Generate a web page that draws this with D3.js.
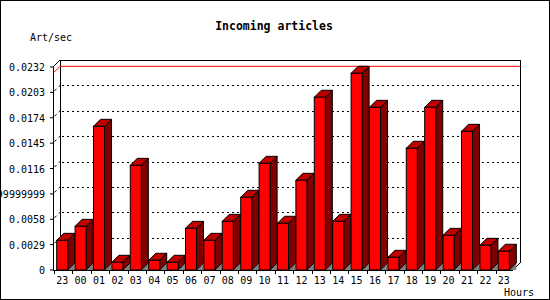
<!DOCTYPE html>
<html>
<head>
<meta charset="utf-8">
<script src="https://cdn.jsdelivr.net/npm/d3@7"></script>
<style>
	body { margin: 0; background: #fff; }
	text { font-family: "DejaVu Sans Mono", "Liberation Mono", monospace; font-size: 10px; fill: #000; }
	.title { font-size: 11.5px; font-weight: bold; }
</style>
</head>
<body>
<script>
// hour labels, starts at 23 of the previous day
var hours = ['23','00','01','02','03','04','05','06','07','08','09','10','11',
	'12','13','14','15','16','17','18','19','20','21','22','23'];

// articles per second
var artPerSec = [0.00339, 0.00499, 0.01642, 0.00088, 0.01196, 0.00111, 0.00088,
	0.00476, 0.00339, 0.00556, 0.00831, 0.01219, 0.00534, 0.01025, 0.01974,
	0.00556, 0.02248, 0.01859, 0.00145, 0.01391, 0.01859, 0.00396, 0.01585,
	0.00282, 0.00214];

var yTickValues = [0, 0.0029, 0.0058, 0.0087, 0.0116, 0.0145, 0.0174, 0.0203, 0.0232];
var yTickLabels = ['0', '0.0029', '0.0058', '0.00869999999999999', '0.0116',
	'0.0145', '0.0174', '0.0203', '0.0232'];

var W = 550, H = 300;
var depth = 7;

var svg = d3.select('body').append('svg')
	.attr('width', W)
	.attr('height', H);

svg.append('rect')
	.attr('x', 0).attr('y', 0)
	.attr('width', W).attr('height', H)
	.attr('fill', 'white');

var x = d3.scaleBand()
	.domain(d3.range(hours.length))
	.range([53, 513])
	.paddingInner(0.4)
	.paddingOuter(0.2);

var y = d3.scaleLinear()
	.domain([0, 0.0232])
	.range([270, 67]);

var x0 = x.range()[0], x1 = x.range()[1];
var yBase = y(0), yTop = y(0.0232);

// back wall + floor + left wall
var frame = svg.append('g')
	.attr('fill', 'none')
	.attr('stroke', 'black')
	.attr('stroke-width', 1)
	.attr('shape-rendering', 'crispEdges');

frame.append('path')
	.attr('d', 'M' + (x0 + depth) + ',' + (yBase - depth) +
		'V' + (yTop - depth) + 'H' + (x1 + depth) + 'V' + (yBase - depth));

// dotted grid, back wall and left wall
var grid = svg.append('g')
	.attr('stroke', 'black')
	.attr('stroke-dasharray', '2,3');

yTickValues.slice(1, -1).forEach(function(v) {
	grid.append('line')
		.attr('x1', x0 + depth + 2).attr('x2', x1 + depth)
		.attr('y1', Math.round(y(v) - depth) + 0.5).attr('y2', Math.round(y(v) - depth) + 0.5);
	grid.append('line')
		.attr('x1', x0).attr('y1', y(v))
		.attr('x2', x0 + depth).attr('y2', y(v) - depth)
		.attr('stroke-dasharray', '3,3')
		.attr('stroke-dashoffset', -2);
});

// max line in red
var maxV = d3.max(artPerSec);
svg.append('path')
	.attr('fill', 'none')
	.attr('stroke', '#ff0000')
	.attr('d', 'M' + x0 + ',' + y(maxV) + 'L' + (x0 + depth) + ',' + (y(maxV) - depth) +
		'H' + (x1 + depth));

// left wall edges and floor front
frame.append('path')
	.attr('d', 'M' + (x0 + depth) + ',' + (yTop - depth) + 'L' + x0 + ',' + yTop +
		'V' + yBase + 'H' + x1 + 'L' + (x1 + depth) + ',' + (yBase - depth));

// bars
var bars = svg.append('g')
	.selectAll('g')
	.data(artPerSec)
	.enter().append('g');

bars.append('path')
	.attr('fill', '#808080')
	.attr('d', function(d, i) {
		var r = x(i) + x.bandwidth();
		return 'M' + r + ',' + yBase + 'L' + (r + depth) + ',' + (yBase - depth) +
			'V' + yBase + 'Z';
	});

bars.append('path')
	.attr('fill', '#800000')
	.attr('stroke', 'black')
	.attr('stroke-linejoin', 'round')
	.attr('d', function(d, i) {
		var r = x(i) + x.bandwidth(), t = y(d);
		return 'M' + r + ',' + t + 'L' + (r + depth) + ',' + (t - depth) +
			'V' + (yBase - depth) + 'L' + r + ',' + yBase + 'Z';
	});

bars.append('path')
	.attr('fill', '#c00000')
	.attr('stroke', 'black')
	.attr('stroke-linejoin', 'round')
	.attr('d', function(d, i) {
		var l = x(i), r = x(i) + x.bandwidth(), t = y(d);
		return 'M' + l + ',' + t + 'L' + (l + depth) + ',' + (t - depth) +
			'H' + (r + depth) + 'L' + r + ',' + t + 'Z';
	});

bars.append('rect')
	.attr('x', function(d, i) { return x(i); })
	.attr('y', function(d) { return y(d); })
	.attr('width', x.bandwidth())
	.attr('height', function(d) { return yBase - y(d); })
	.attr('fill', '#ff0000')
	.attr('stroke', 'black');

// y axis ticks + labels
yTickValues.forEach(function(v, i) {
	svg.append('line')
		.attr('x1', x0 - 3).attr('x2', x0)
		.attr('y1', y(v)).attr('y2', y(v))
		.attr('stroke', 'black');
	svg.append('text')
		.attr('x', 45)
		.attr('y', y(v) + 4)
		.attr('text-anchor', 'end')
		.text(yTickLabels[i]);
});

// x axis ticks + labels
var step = x.step();
hours.forEach(function(h, i) {
	var tx = Math.round(x(i) - step * 0.2) + 1.5;
	svg.append('line')
		.attr('x1', tx).attr('x2', tx)
		.attr('y1', yBase).attr('y2', yBase + 4)
		.attr('stroke', 'black');
	svg.append('text')
		.attr('x', x(i) + x.bandwidth() / 2)
		.attr('y', 284)
		.attr('text-anchor', 'middle')
		.text(h);
});

svg.append('text')
	.attr('class', 'title')
	.attr('x', 274)
	.attr('y', 30)
	.attr('text-anchor', 'middle')
	.text('Incoming articles');

svg.append('text')
	.attr('x', 30)
	.attr('y', 41)
	.text('Art/sec');

svg.append('text')
	.attr('x', 504)
	.attr('y', 296)
	.text('Hours');

// outer border
svg.append('rect')
	.attr('x', 0.5).attr('y', 0.5)
	.attr('width', W - 1).attr('height', H - 1)
	.attr('fill', 'none')
	.attr('stroke', 'black');
</script>
</body>
</html>
